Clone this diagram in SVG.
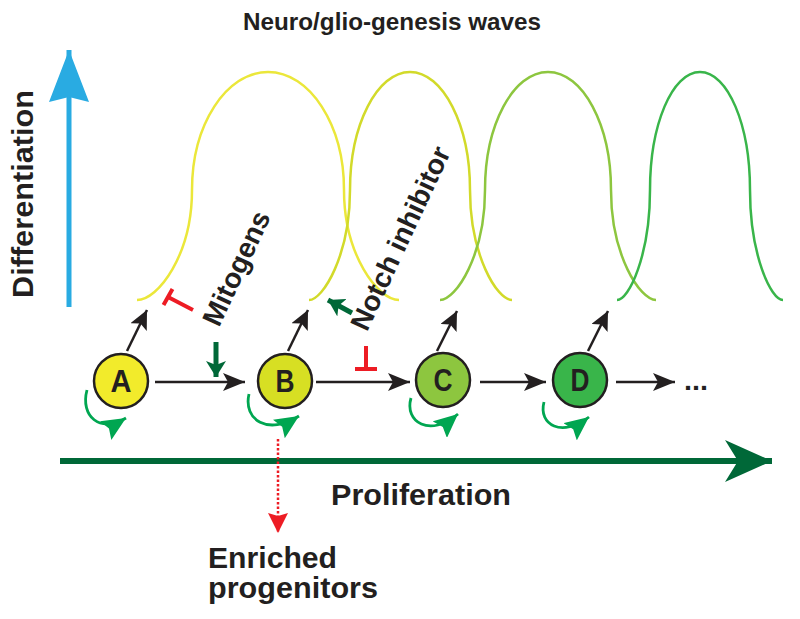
<svg xmlns="http://www.w3.org/2000/svg" width="800" height="619" viewBox="0 0 800 619">
<style>
.t{font-family:"Liberation Sans",Arial,sans-serif;font-weight:bold;fill:#231f20}
.wave{fill:none;stroke-width:2.5}
.node{stroke:#231f20;stroke-width:2.5}
.blk{stroke:#231f20;stroke-width:2.5;fill:none}
.loop{stroke:#00a651;stroke-width:2.8;fill:none}
.inh{stroke:#ed1c24;stroke-width:4;fill:none}
.dg{stroke:#006838;stroke-width:5;fill:none}
</style>
<defs>
<marker id="mBlk" markerUnits="userSpaceOnUse" markerWidth="22" markerHeight="18" refX="22" refY="9" orient="auto"><path d="M0,0 L22,9 L0,18 L5,9 z" fill="#231f20"/></marker>
<marker id="mBlkS" markerUnits="userSpaceOnUse" markerWidth="19" markerHeight="18" refX="19" refY="9" orient="auto"><path d="M0,0 L19,9 L0,18 L4,9 z" fill="#231f20"/></marker>
<marker id="mLoop" markerUnits="userSpaceOnUse" markerWidth="24" markerHeight="22" refX="24" refY="11" orient="auto"><path d="M0,0 L24,11 L0,22 L4,11 z" fill="#00a651"/></marker>
<marker id="mDg" markerUnits="userSpaceOnUse" markerWidth="16" markerHeight="20" refX="16" refY="10" orient="auto"><path d="M0,0 L16,10 L0,20 L4,10 z" fill="#006838"/></marker>
<marker id="mRed" markerUnits="userSpaceOnUse" markerWidth="20" markerHeight="20" refX="20" refY="10" orient="auto"><path d="M0,0 L20,10 L0,20 L3,10 z" fill="#ed1c24"/></marker>
<marker id="mBlue" markerUnits="userSpaceOnUse" markerWidth="52" markerHeight="40" refX="52" refY="20" orient="auto"><path d="M0,0 L52,20 L0,40 L5,20 z" fill="#29abe2"/></marker>
<marker id="mProl" markerUnits="userSpaceOnUse" markerWidth="47" markerHeight="42" refX="47" refY="21" orient="auto"><path d="M0,0 L47,21 L0,42 L13,21 z" fill="#006838"/></marker>
</defs>
<rect width="800" height="619" fill="#ffffff"/>

<text class="t" x="392" y="30" font-size="24" text-anchor="middle" textLength="298" lengthAdjust="spacingAndGlyphs">Neuro/glio-genesis waves</text>

<g id="waves">
<path class="wave" stroke="#ebe73a" d="M137,300 C158,300 192,255 192,190 C192,125 226,72 268,72 C310,72 344,125 344,190 C344,255 378,300 399,300"/>
<path class="wave" stroke="#d2da2a" d="M309,300 C323,300 350,255 350,190 C350,125 377,72 410,72 C443,72 470,125 470,190 C470,255 497,300 512,300"/>
<path class="wave" stroke="#8dc63f" d="M440,300 C456,300 485,255 485,190 C485,125 513,72 548,72 C583,72 611,125 611,190 C611,255 640,300 656,300"/>
<path class="wave" stroke="#39b54a" d="M617,300 C629,300 650,255 650,190 C650,125 672,72 700,72 C728,72 750,125 750,190 C750,255 771,300 783,300"/>
</g>

<g id="connectors">
<line x1="69" y1="307" x2="69" y2="50" stroke="#29abe2" stroke-width="5" marker-end="url(#mBlue)"/>
<line x1="60" y1="461" x2="772" y2="461" stroke="#006838" stroke-width="6" marker-end="url(#mProl)"/>
<line class="blk" x1="155" y1="382" x2="245" y2="382" marker-end="url(#mBlk)"/>
<line class="blk" x1="316" y1="382" x2="410" y2="382" marker-end="url(#mBlk)"/>
<line class="blk" x1="480" y1="382" x2="546" y2="382" marker-end="url(#mBlk)"/>
<line class="blk" x1="616" y1="382" x2="675" y2="382" marker-end="url(#mBlk)"/>
<line class="blk" x1="127" y1="351" x2="147" y2="310" marker-end="url(#mBlkS)"/>
<line class="blk" x1="288" y1="351" x2="308" y2="310" marker-end="url(#mBlkS)"/>
<line class="blk" x1="437" y1="351" x2="457" y2="311" marker-end="url(#mBlkS)"/>
<line class="blk" x1="588" y1="351" x2="608" y2="311" marker-end="url(#mBlkS)"/>
<path class="loop" d="M87,390 C80,416 100,434 126,418" marker-end="url(#mLoop)"/>
<path class="loop" d="M249,394 C243,420 268,436 299,416" marker-end="url(#mLoop)"/>
<path class="loop" d="M411,398 C404,422 430,438 458,414" marker-end="url(#mLoop)"/>
<path class="loop" d="M544,402 C538,425 562,438 589,417" marker-end="url(#mLoop)"/>
<path class="inh" d="M193,310 L168,297 M163.5,305 L172.5,289"/>
<path class="inh" d="M366,346 L366,369 M355,369 L377,369"/>
<line class="dg" x1="216" y1="342" x2="216" y2="377" marker-end="url(#mDg)"/>
<line class="dg" x1="352" y1="313" x2="328" y2="300" marker-end="url(#mDg)"/>
<line x1="278" y1="439" x2="278" y2="533" stroke="#ed1c24" stroke-width="2.5" stroke-dasharray="2.5 2" marker-end="url(#mRed)"/>
</g>

<g id="nodeA"><circle class="node" cx="121" cy="381" r="27" fill="#f2eb2b"/><text class="t" x="121" y="392" font-size="31" text-anchor="middle" textLength="21" lengthAdjust="spacingAndGlyphs">A</text></g>
<g id="nodeB"><circle class="node" cx="285" cy="381" r="27" fill="#d7df23"/><text class="t" x="285" y="392" font-size="31" text-anchor="middle" textLength="19" lengthAdjust="spacingAndGlyphs">B</text></g>
<g id="nodeC"><circle class="node" cx="443" cy="380" r="27" fill="#8dc63f"/><text class="t" x="443" y="391" font-size="31" text-anchor="middle" textLength="19" lengthAdjust="spacingAndGlyphs">C</text></g>
<g id="nodeD"><circle class="node" cx="580" cy="380" r="27" fill="#39b54a"/><text class="t" x="580" y="391" font-size="31" text-anchor="middle" textLength="19" lengthAdjust="spacingAndGlyphs">D</text></g>

<text class="t" x="684" y="390" font-size="28" textLength="24" lengthAdjust="spacingAndGlyphs">...</text>
<text class="t" transform="translate(33,194) rotate(-90)" x="0" y="0" font-size="30" text-anchor="middle" textLength="208" lengthAdjust="spacingAndGlyphs">Differentiation</text>
<text class="t" transform="translate(236,268) rotate(-65)" x="0" y="10" font-size="28" text-anchor="middle">Mitogens</text>
<text class="t" transform="translate(400,238) rotate(-65)" x="0" y="10" font-size="28" text-anchor="middle">Notch inhibitor</text>
<text class="t" x="421" y="505" font-size="30" text-anchor="middle" textLength="180" lengthAdjust="spacingAndGlyphs">Proliferation</text>
<text class="t" x="208" y="568" font-size="30" textLength="129" lengthAdjust="spacingAndGlyphs">Enriched</text>
<text class="t" x="208" y="598" font-size="30" textLength="170" lengthAdjust="spacingAndGlyphs">progenitors</text>
</svg>
